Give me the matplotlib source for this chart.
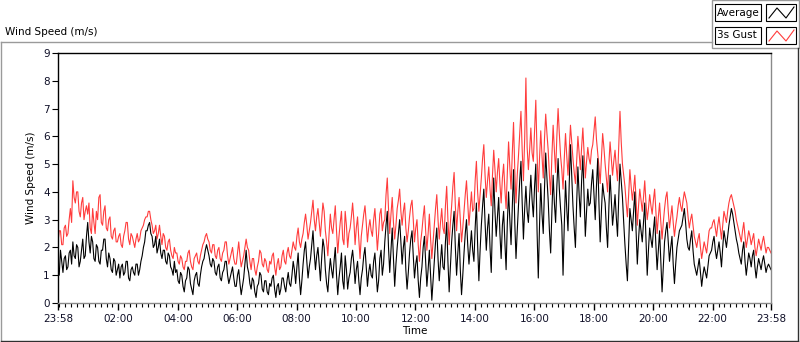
import numpy as np
import matplotlib
matplotlib.use("Agg")
import matplotlib.pyplot as plt
from matplotlib.lines import Line2D
from matplotlib.patches import Rectangle

plt.rcParams['font.family'] = ['DejaVu Sans']

# minutes since 23:58, one sample every 2.5 minutes (24 per hour)
step = 2.5

average = [
    1.4, 1.0, 1.9, 1.5, 1.1, 1.6, 1.7, 1.2, 1.3, 1.8, 1.9, 1.4, 2.2, 1.7, 1.6, 2.1, 2.0, 1.3, 1.5, 1.9, 2.3, 1.6, 1.7, 2.4,
    2.9, 2.2, 1.8, 2.4, 2.2, 1.6, 1.5, 2.1, 2.0, 1.5, 1.4, 1.9, 1.9, 2.3, 2.3, 1.6, 1.3, 1.8, 1.6, 1.2, 1.1, 1.6, 1.5, 1.0,
    1.2, 1.4, 0.9, 1.3, 1.4, 1.0, 1.1, 1.5, 1.5, 0.9, 0.8, 1.2, 1.3, 1.1, 1.0, 1.4, 1.4, 1.0, 1.2, 1.5, 1.7, 2.0, 2.2, 2.6,
    2.6, 2.8, 2.9, 2.5, 2.4, 2.0, 2.1, 2.4, 1.8, 2.0, 2.3, 1.8, 1.6, 1.9, 1.9, 1.5, 1.4, 1.8, 1.7, 1.3, 1.2, 1.0, 1.5, 1.1,
    1.2, 0.8, 0.7, 1.1, 1.0, 0.6, 0.4, 0.8, 0.9, 1.3, 1.2, 0.7, 0.5, 0.3, 0.8, 1.0, 1.1, 0.7, 0.6, 1.0, 1.3, 1.5, 1.6, 1.9,
    2.1, 1.9, 1.7, 1.4, 1.3, 1.6, 1.5, 1.1, 1.0, 1.3, 1.4, 0.9, 0.8, 1.1, 1.2, 1.5, 1.5, 1.0, 0.7, 0.9, 1.1, 1.3, 0.9, 0.6,
    0.6, 1.0, 1.2, 0.7, 0.3, 0.6, 0.9, 1.4, 1.9, 1.3, 1.1, 0.7, 0.5, 0.9, 0.8, 0.4, 0.2, 0.6, 0.7, 1.1, 1.0, 0.5, 0.4, 0.8,
    0.8, 0.4, 0.3, 0.7, 0.6, 0.9, 1.0, 0.5, 0.2, 0.6, 0.7, 0.3, 0.5, 0.9, 0.9, 0.6, 0.4, 0.8, 1.1, 0.7, 0.6, 1.0, 1.5, 1.2,
    0.7, 1.3, 1.8, 0.9, 0.3, 0.8, 1.4, 1.9, 2.2, 1.5, 0.9, 1.3, 1.6, 2.1, 2.6, 1.8, 1.2, 1.7, 2.0, 1.4, 0.8, 1.6, 2.3, 2.0,
    1.2, 0.7, 0.4, 1.1, 1.6, 1.2, 0.9, 1.5, 2.0, 1.0, 0.3, 0.9, 1.3, 1.8, 0.8, 0.5, 1.7, 1.2, 0.5, 0.9, 1.1, 1.6, 1.9, 1.4,
    0.7, 1.2, 1.5, 0.8, 0.3, 0.9, 1.2, 1.7, 2.0, 1.3, 0.6, 1.1, 1.4, 1.0, 0.9, 1.5, 1.8, 1.1, 0.4, 0.8, 1.6, 1.9, 1.0, 1.4,
    2.2, 2.8, 3.3, 2.0, 1.1, 1.9, 2.7, 1.6, 0.6, 1.4, 2.0, 2.5, 3.0, 2.2, 1.4, 2.0, 2.4, 1.2, 0.5, 1.1, 1.8, 2.3, 2.6, 1.7,
    0.9, 1.4, 1.7, 0.8, 0.2, 0.9, 1.3, 2.0, 2.4, 1.5, 0.6, 1.2, 1.9, 1.0, 0.1, 0.8, 1.5, 2.2, 2.7, 1.6, 0.8, 1.5, 2.1, 1.3,
    1.2, 2.2, 2.9, 1.5, 0.4, 1.3, 2.2, 2.8, 3.3, 2.0, 1.0, 1.8, 2.5, 1.2, 0.3, 1.0, 1.8, 2.5, 3.0, 2.1, 1.4, 2.0, 2.6, 1.9,
    1.5, 2.7, 3.6, 2.1, 0.8, 1.9, 2.8, 3.5, 4.1, 2.9, 1.9, 2.7, 3.2, 2.0, 1.1, 2.9, 4.5, 3.3, 2.4, 3.1, 3.8, 2.5, 1.6, 2.8,
    3.3, 2.2, 1.2, 2.9, 4.0, 3.0, 2.1, 3.5, 4.8, 2.9, 1.6, 2.6, 3.5, 4.4, 5.1, 3.6, 2.3, 3.4, 4.2, 3.3, 2.9, 3.8, 4.6, 3.7,
    3.1, 4.2, 5.0, 2.6, 0.9, 2.8, 4.3, 3.2, 2.5, 4.1, 5.4, 4.5, 3.7, 2.6, 1.8, 3.3, 4.6, 3.6, 2.9, 4.2, 5.2, 4.1, 3.4, 2.8,
    1.0, 2.8, 4.4, 3.4, 2.6, 4.3, 5.7, 4.6, 3.5, 2.7, 2.0, 3.6, 4.9, 3.9, 3.1, 4.4, 5.3, 3.8, 2.4, 3.3, 4.1, 3.5, 3.6, 4.3,
    4.8, 3.9, 3.0, 4.2, 5.2, 3.6, 2.2, 3.3, 4.3, 3.9, 3.6, 2.7, 2.0, 3.4, 4.6, 3.7, 2.8, 3.3, 3.9, 3.1, 2.4, 3.8, 5.0, 4.4,
    3.8, 2.9, 2.1, 1.4, 0.8, 2.1, 3.4, 3.0, 2.6, 3.3, 4.0, 2.6, 1.4, 2.3, 3.0, 2.6, 2.2, 2.9, 3.6, 2.3, 1.0, 1.9, 2.7, 2.3,
    2.0, 2.6, 3.1, 2.1, 1.2, 1.9, 2.6, 1.5, 0.4, 1.3, 2.2, 2.6, 2.9, 2.2, 1.5, 2.0, 2.4, 1.4, 0.7, 1.4, 2.0, 2.3, 2.6, 2.7,
    2.8, 3.1, 3.4, 2.9, 2.3, 2.0, 1.9, 2.3, 2.6, 1.9, 1.4, 1.2, 1.0, 1.3, 1.6, 1.1, 0.6, 1.0, 1.3, 1.1, 0.9, 1.3, 1.7, 1.8,
    1.9, 2.2, 2.4, 1.9, 1.6, 1.9, 2.2, 1.8, 1.3, 2.0, 2.6, 2.3, 2.0, 2.4, 2.8, 3.1, 3.4, 3.2, 2.9, 2.6, 2.3, 2.1, 1.8, 1.6,
    1.4, 1.9, 2.2, 1.5, 1.0, 1.4, 1.8, 1.6, 1.3, 1.7, 1.9, 1.3, 0.9, 1.3, 1.6, 1.4, 1.2, 1.5, 1.7, 1.4, 1.1, 1.3, 1.4, 1.3,
    1.2,
]

gust = [
    2.2, 2.6, 2.6, 2.1, 2.1, 2.7, 2.8, 2.4, 2.5, 3.0, 3.4, 2.9, 4.4, 3.8, 3.6, 4.0, 4.0, 3.3, 3.1, 3.6, 3.8, 3.0, 3.3, 3.5,
    3.2, 3.6, 2.7, 2.5, 3.4, 2.9, 2.5, 3.3, 3.0, 3.8, 3.9, 2.9, 2.8, 3.3, 3.5, 2.7, 2.6, 3.0, 3.1, 2.4, 2.3, 2.6, 2.7, 2.2,
    2.2, 2.4, 2.5, 2.1, 2.0, 2.4, 2.6, 2.9, 2.9, 2.3, 2.1, 2.5, 2.4, 2.2, 2.0, 2.3, 2.5, 2.2, 2.3, 2.6, 2.7, 2.8, 3.0, 3.1,
    3.1, 3.3, 3.3, 3.0, 2.8, 2.5, 2.6, 2.8, 2.3, 2.5, 2.8, 2.4, 2.1, 2.5, 2.4, 2.0, 1.9, 2.2, 2.3, 1.9, 1.7, 1.6, 2.0, 1.8,
    1.8, 1.5, 1.4, 1.7, 1.6, 1.3, 1.2, 1.5, 1.5, 1.8, 1.9, 1.5, 1.3, 1.2, 1.6, 1.7, 1.8, 1.5, 1.4, 1.7, 1.9, 2.1, 2.2, 2.4,
    2.5, 2.3, 2.2, 1.9, 1.8, 2.1, 2.1, 1.7, 1.6, 1.9, 2.0, 1.6, 1.5, 1.8, 1.9, 2.2, 2.2, 1.7, 1.4, 1.6, 1.8, 2.0, 1.6, 1.4,
    1.4, 1.8, 2.2, 1.7, 1.3, 1.5, 1.7, 2.0, 2.3, 2.0, 1.9, 1.5, 1.2, 1.6, 1.6, 1.2, 1.0, 1.3, 1.5, 1.9, 1.8, 1.4, 1.3, 1.6,
    1.5, 1.2, 1.1, 1.5, 1.4, 1.7, 1.8, 1.3, 1.0, 1.4, 1.6, 1.2, 1.3, 1.7, 1.9, 1.5, 1.4, 1.8, 2.0, 1.7, 1.6, 1.9, 2.2, 2.0,
    1.9, 2.4, 2.7, 2.2, 2.0, 2.3, 2.5, 2.9, 3.2, 2.8, 2.3, 2.6, 2.9, 3.3, 3.7, 3.0, 2.6, 3.1, 3.4, 2.9, 2.4, 3.0, 3.6, 3.3,
    2.6, 2.2, 1.7, 2.5, 3.2, 2.7, 2.5, 3.0, 3.5, 2.6, 1.8, 2.4, 2.9, 3.3, 2.3, 2.1, 3.3, 2.8, 2.0, 2.5, 2.7, 3.1, 3.6, 3.0,
    2.1, 2.7, 3.1, 2.3, 1.6, 2.4, 2.8, 3.2, 3.5, 2.9, 2.2, 2.7, 3.0, 2.6, 2.4, 3.0, 3.4, 2.7, 1.9, 2.5, 3.2, 3.4, 2.6, 2.9,
    3.0, 3.9, 4.5, 3.4, 2.5, 3.2, 3.8, 2.9, 2.3, 2.8, 3.4, 3.7, 4.1, 3.3, 2.8, 3.3, 3.6, 2.7, 2.2, 2.6, 3.1, 3.5, 3.7, 3.0,
    2.2, 2.7, 3.0, 2.1, 1.5, 2.2, 2.6, 3.1, 3.5, 2.6, 1.9, 2.5, 3.2, 2.3, 1.6, 2.2, 2.8, 3.4, 3.9, 3.0, 2.3, 2.9, 3.4, 2.7,
    2.5, 3.5, 4.2, 3.0, 2.1, 2.9, 3.5, 4.2, 4.7, 3.5, 2.6, 3.3, 3.8, 3.0, 2.2, 2.7, 3.3, 3.9, 4.4, 3.6, 2.8, 3.4, 4.0, 3.3,
    3.4, 4.4, 5.1, 4.0, 3.3, 3.9, 4.5, 5.2, 5.7, 4.6, 3.8, 4.4, 4.9, 4.1, 3.5, 4.6, 5.5, 4.8, 4.0, 4.7, 5.2, 4.3, 3.6, 4.5,
    5.0, 4.1, 3.4, 4.7, 5.8, 4.9, 4.1, 5.4, 6.5, 4.8, 3.6, 4.6, 5.3, 6.1, 6.9, 5.5, 4.4, 5.9, 8.1, 5.6, 4.8, 5.5, 6.3, 5.4,
    5.1, 6.2, 7.3, 5.4, 4.0, 5.2, 6.2, 5.3, 4.5, 5.9, 6.8, 6.1, 5.5, 4.6, 3.9, 5.3, 6.4, 5.5, 4.7, 6.0, 7.0, 6.1, 5.3, 4.8,
    4.1, 5.2, 6.1, 5.3, 4.6, 5.5, 6.4, 5.8, 5.2, 4.7, 4.3, 5.1, 6.0, 5.4, 4.8, 5.6, 6.3, 5.4, 4.5, 5.1, 5.6, 5.2, 5.0, 5.5,
    5.7, 6.2, 6.7, 5.9, 5.4, 4.9, 4.3, 5.2, 6.1, 5.6, 5.0, 4.5, 4.0, 5.0, 5.8, 5.2, 4.6, 5.1, 5.5, 4.9, 4.4, 5.6, 6.9, 5.8,
    5.0, 4.6, 4.2, 3.6, 3.1, 3.9, 4.8, 4.2, 3.7, 4.1, 4.6, 3.7, 2.8, 3.5, 4.1, 3.7, 3.3, 3.8, 4.4, 3.6, 3.0, 3.4, 3.9, 3.5,
    3.2, 3.7, 4.1, 3.3, 2.5, 3.1, 3.6, 2.9, 2.3, 2.9, 3.4, 3.8, 4.0, 3.3, 2.7, 3.1, 3.5, 2.9, 2.4, 2.8, 3.1, 3.5, 3.8, 3.5,
    3.3, 3.7, 4.0, 3.8, 3.6, 3.1, 2.7, 3.0, 3.2, 2.8, 2.4, 2.2, 2.0, 2.3, 2.5, 2.0, 1.6, 1.9, 2.2, 2.0, 1.8, 2.2, 2.6, 2.7,
    2.7, 2.9, 3.0, 2.7, 2.4, 2.8, 3.1, 2.7, 2.3, 2.8, 3.3, 3.1, 2.9, 3.3, 3.6, 3.8, 3.9, 3.7, 3.5, 3.3, 3.0, 2.8, 2.6, 2.4,
    2.2, 2.6, 2.9, 2.4, 2.0, 2.3, 2.6, 2.4, 2.1, 2.3, 2.5, 2.0, 1.7, 2.0, 2.3, 2.1, 1.9, 2.2, 2.4, 2.1, 1.8, 2.0, 2.0, 1.9,
    1.8,
]

tick_minutes = [0, 122, 242, 362, 482, 602, 722, 842, 962, 1082, 1202, 1322, 1440]
tick_labels = ['23:58', '02:00', '04:00', '06:00', '08:00', '10:00', '12:00',
               '14:00', '16:00', '18:00', '20:00', '22:00', '23:58']
y_ticks = list(range(10))

W, H = 800, 342
def fx(px):
    return px / W
def fy(py):
    return 1 - py / H

fs = 7.5
fig = plt.figure(figsize=(8, 3.42), dpi=100)
fig.patch.set_facecolor('white')

t = np.arange(len(average)) * step

ax = fig.add_axes([fx(58), fy(303), fx(771) - fx(58), fy(53) - fy(303)])
ax.plot(t, gust, color='#ff3c3c', lw=0.8)
ax.plot(t, average, color='black', lw=0.8)
ax.set_xlim(0, 1440)
ax.set_ylim(0, 9)

ax.set_xticks(tick_minutes)
ax.set_xticklabels(tick_labels)
ax.set_xticks(np.arange(2, 1440, 12), minor=True)
ax.set_yticks(y_ticks)
ax.tick_params(axis='both', which='major', labelsize=fs, direction='out',
               color='black', labelcolor='#101028')
ax.tick_params(axis='x', which='major', length=5, width=1, pad=3)
ax.tick_params(axis='x', which='minor', length=3, width=0.8)
ax.tick_params(axis='y', which='major', length=4, width=0.8, pad=2)

ax.spines['left'].set_color('black')
ax.spines['top'].set_color('black')
ax.spines['right'].set_color('#8a8a8a')
ax.spines['bottom'].set_color('#8a8a8a')
for s in ax.spines.values():
    s.set_linewidth(1)

ax.set_xlabel('Time', fontsize=fs, labelpad=1)
ax.set_ylabel('Wind Speed (m/s)', fontsize=fs, labelpad=5)

# outer frame of the graph
frame_gray = '#9a9a9a'
fig.add_artist(Line2D([fx(1), fx(1)], [fy(42), fy(341)], color=frame_gray, lw=1))
fig.add_artist(Line2D([fx(1), fx(712)], [fy(42), fy(42)], color=frame_gray, lw=1))
fig.add_artist(Line2D([fx(1), fx(798)], [fy(341), fy(341)], color='#303030', lw=1))
fig.add_artist(Line2D([fx(798), fx(798)], [fy(48), fy(341)], color='#303030', lw=1))

fig.text(fx(5), fy(32), 'Wind Speed (m/s)', fontsize=fs, va='center', ha='left')

# legend panel
fig.add_artist(Rectangle((fx(712), fy(48)), fx(87), fy(0) - fy(48),
                         transform=fig.transFigure, facecolor='white',
                         edgecolor=frame_gray, lw=1))
for row, (name, col) in enumerate([('Average', 'black'), ('3s Gust', '#ff3c3c')]):
    top = 4 + row * 23
    fig.add_artist(Rectangle((fx(715), fy(top + 17)), fx(46), fy(0) - fy(17),
                             transform=fig.transFigure, facecolor='white',
                             edgecolor='black', lw=0.8))
    fig.text(fx(717), fy(top + 8.5), name, fontsize=fs, va='center', ha='left')
    fig.add_artist(Rectangle((fx(766), fy(top + 17)), fx(30), fy(0) - fy(17),
                             transform=fig.transFigure, facecolor='white',
                             edgecolor='black', lw=0.8))
    zx = [769, 777, 786, 794]
    zy = [top + 14, top + 4, top + 14, top + 3]
    fig.add_artist(Line2D([fx(v) for v in zx], [fy(v) for v in zy], color=col, lw=0.8))

fig.savefig('out.png', dpi=100, facecolor='white')
